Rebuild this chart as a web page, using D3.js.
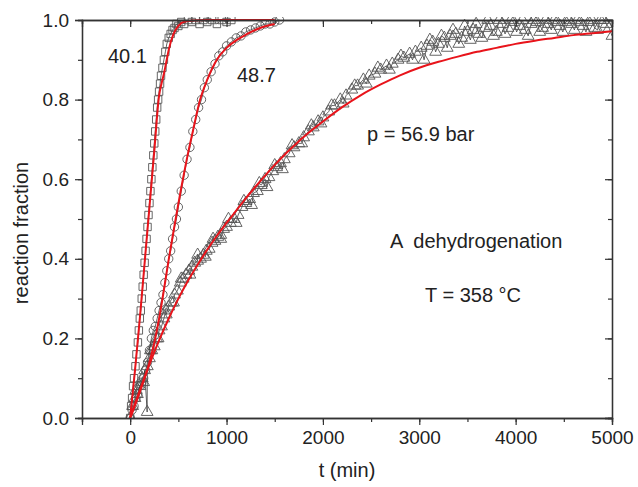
<!DOCTYPE html>
<html>
<head>
<meta charset="utf-8">
<script src="https://cdn.jsdelivr.net/npm/d3@7"></script>
<style>
  body { margin: 0; background: #fff; }
  text { font-family: "Liberation Sans", Arial, sans-serif; fill: #222; }
</style>
</head>
<body>
<div id="chart"></div>
<script>
// measured data, [t (min), reaction fraction]
var sq401 = [[0,0],[10,0.03],[20,0.05],[30,0.08],[40,0.1],[55,0.13],[65,0.16],[80,0.19],[90,0.22],[100,0.25],
  [110,0.27],[120,0.3],[130,0.33],[140,0.36],[150,0.39],[160,0.42],[170,0.45],[180,0.48],[190,0.51],
  [200,0.54],[210,0.57],[220,0.6],[230,0.63],[240,0.66],[250,0.69],[260,0.72],[270,0.75],[280,0.78],[290,0.8],
  [300,0.82],[310,0.84],[320,0.86],[335,0.88],[350,0.9],[365,0.92],[380,0.94],[400,0.955],[420,0.965],[440,0.975],
  [460,0.98],[480,0.99],[500,0.985],[530,0.995],[560,0.99],[600,1.0],[640,0.995],[680,1.0],[720,0.99],[760,1.0],
  [800,0.995],[850,1.0],[900,0.99],[950,1.0],[1000,0.995],[1050,1.0]];

var ci487 = [[0,0],[20,0.02],[40,0.03],[60,0.05],[80,0.06],[100,0.08],[120,0.09],[140,0.1],[160,0.12],[180,0.14],
  [200,0.17],[220,0.2],[240,0.22],[260,0.23],[280,0.25],[300,0.27],[320,0.29],[340,0.31],[360,0.34],[380,0.37],
  [400,0.4],[420,0.42],[440,0.45],[460,0.48],[480,0.5],[500,0.53],[530,0.57],[560,0.61],[590,0.65],[620,0.68],
  [650,0.72],[680,0.75],[710,0.78],[740,0.8],[770,0.83],[800,0.85],[840,0.87],[880,0.89],[920,0.91],[960,0.92],
  [1000,0.935],[1050,0.945],[1100,0.955],[1150,0.96],[1200,0.97],[1250,0.975],[1300,0.98],[1350,0.985],[1400,0.99],
  [1450,0.99],[1500,0.995],[1550,1.0]];

var tr569 = [[0,0],[25,0.03],[50,0.05],[60,0.07],[75,0.06],[100,0.08],[125,0.1],[140,0.09],[150,0.12],[176,0.015],[178,0.13],
  [200,0.15],[210,0.17],[225,0.17],[250,0.18],[275,0.2],[290,0.2],[300,0.22],[325,0.23],[350,0.25],[370,0.27],[375,0.26],[400,0.28],[430,0.29],
  [450,0.29],[460,0.31],[490,0.32],[520,0.34],[530,0.35],[550,0.35],[580,0.36],[610,0.37],[620,0.36],[640,0.38],[670,0.39],[700,0.395],[700,0.41],[730,0.4],
  [760,0.41],[780,0.405],[790,0.42],[820,0.425],[850,0.44],[860,0.45],[880,0.445],[910,0.455],[940,0.46],[940,0.45],[970,0.475],[1000,0.48],[1020,0.5],[1040,0.49],
  [1080,0.5],[1100,0.49],[1120,0.51],[1160,0.53],[1180,0.545],[1200,0.54],[1240,0.55],[1260,0.535],[1280,0.565],[1320,0.57],[1340,0.59],[1360,0.585],[1400,0.6],[1420,0.58],[1440,0.605],
  [1480,0.62],[1500,0.635],[1520,0.63],[1560,0.64],[1580,0.625],[1600,0.65],[1650,0.665],[1680,0.685],[1700,0.68],[1750,0.69],[1780,0.69],[1800,0.705],[1850,0.72],[1880,0.735],[1900,0.73],
  [1950,0.745],[1980,0.74],[2000,0.755],[2060,0.77],[2090,0.785],[2120,0.785],[2180,0.8],[2210,0.79],[2240,0.81],[2300,0.825],[2330,0.835],[2360,0.835],[2420,0.85],[2450,0.84],[2480,0.86],
  [2540,0.865],[2570,0.88],[2600,0.875],[2660,0.885],[2690,0.875],[2720,0.89],[2780,0.9],[2810,0.91],[2840,0.905],[2900,0.915],[2930,0.9],[2960,0.92],[3020,0.93],[3050,0.9],[3080,0.935],
  [3110,0.95],[3140,0.945],[3170,0.92],[3200,0.94],[3230,0.96],[3260,0.955],[3290,0.93],[3320,0.96],[3350,0.975],[3380,0.965],[3410,0.94],[3440,0.955],[3470,0.985],[3500,0.97],
  [3530,0.95],[3560,0.975],[3590,0.99],[3620,0.965],[3650,0.955],[3680,0.98],[3710,1.0],[3740,0.985],[3770,0.96],[3800,0.97],[3830,1.0],[3860,0.99],[3890,0.965],[3920,0.98],
  [3950,1.0],[3980,0.995],[4010,0.97],[4040,0.985],[4070,1.0],[4100,0.975],[4130,0.96],[4160,0.99],[4190,1.0],[4220,0.995],[4250,0.97],[4280,0.98],[4310,1.0],
  [4340,0.99],[4370,0.975],[4400,1.0],[4430,0.995],[4460,0.985],[4490,0.97],[4520,0.995],[4550,1.0],[4580,0.99],[4610,0.975],[4640,1.0],[4670,0.995],[4700,0.985],
  [4730,0.97],[4760,0.995],[4790,1.0],[4820,0.98],[4850,0.975],[4880,1.0],[4910,1.0],[4940,0.99],[4970,0.98],[5000,0.96]];

// fitted curves (red)
var fit401 = [[0,0],[50,0.12],[100,0.25],[150,0.39],[200,0.53],[250,0.67],[300,0.81],[325,0.84],[350,0.865],[375,0.895],
  [400,0.925],[450,0.965],[500,0.985],[550,0.995],[650,0.999],[800,1.0],[1500,1.0]];
var fit487 = [[0,0],[100,0.065],[200,0.14],[260,0.2],[300,0.25],[415,0.42],[547,0.6],[600,0.665],[650,0.72],[726,0.8],
  [800,0.85],[899,0.9],[1000,0.93],[1107,0.95],[1200,0.963],[1349,0.98],[1500,0.99]];
var fit569 = [[0,0],[100,0.07],[200,0.135],[300,0.195],[400,0.25],[500,0.3],[600,0.345],[700,0.385],[800,0.423],[900,0.458],
  [1000,0.49],[1100,0.521],[1200,0.552],[1300,0.581],[1400,0.609],[1500,0.636],[1600,0.661],[1700,0.684],[1800,0.706],
  [1900,0.726],[2000,0.745],[2200,0.781],[2400,0.812],[2600,0.838],[2800,0.861],[3000,0.88],[3200,0.895],[3400,0.908],
  [3600,0.92],[3800,0.93],[4000,0.94],[4200,0.948],[4400,0.955],[4600,0.962],[4800,0.967],[5000,0.972]];

var xTicks = [0, 1000, 2000, 3000, 4000, 5000];
var yTicks = [0, 0.2, 0.4, 0.6, 0.8, 1.0];

var W = 638, H = 487;
var margin = { top: 20, right: 26, bottom: 69, left: 82 },
    width = W - margin.left - margin.right,
    height = H - margin.top - margin.bottom;

var svg = d3.select("#chart").append("svg")
    .attr("width", W).attr("height", H);
var g = svg.append("g")
    .attr("transform", "translate(" + margin.left + "," + margin.top + ")");

var x = d3.scaleLinear().domain([-500, 5000]).range([0, width]);
var y = d3.scaleLinear().domain([0, 1]).range([height, 0]);

svg.append("defs").append("clipPath").attr("id", "clip")
  .append("rect").attr("y", -3).attr("width", width).attr("height", height + 3);

var plot = g.append("g").attr("clip-path", "url(#clip)");

var line = d3.line()
    .x(function (d) { return x(d[0]) })
    .y(function (d) { return y(d[1]) });

var series = [
  { data: tr569, sym: d3.symbolTriangle, size: 60 },
  { data: ci487, sym: d3.symbolCircle, size: 55 },
  { data: sq401, sym: d3.symbolSquare, size: 55 }
];

series.forEach(function (s) {
  plot.append("path").datum(s.data)
    .attr("fill", "none").attr("stroke", "#222").attr("stroke-width", 0.7)
    .attr("d", line);
  plot.append("g").selectAll("path")
    .data(s.data).enter().append("path")
    .attr("transform", function (d) { return "translate(" + x(d[0]) + "," + y(d[1]) + ")" })
    .attr("d", d3.symbol().type(s.sym).size(s.size))
    .attr("fill", "none")
    .attr("stroke", "#555")
    .attr("stroke-width", 0.9);
});

// red fits
[fit401, fit487, fit569].forEach(function (f) {
  plot.append("path").datum(f)
    .attr("fill", "none").attr("stroke", "#e8141b").attr("stroke-width", 2)
    .attr("d", line.curve(d3.curveMonotoneX));
});

// axes
function styleAxis(sel) {
  sel.selectAll(".domain").attr("stroke", "#333").attr("stroke-width", 1.3);
  sel.selectAll(".tick line").attr("stroke", "#333").attr("stroke-width", 1.2);
  sel.selectAll(".tick text").style("font-size", "19px").attr("fill", "#222");
}
var xMinor = d3.range(-500, 5001, 500);
var yMinor = d3.range(0, 1.001, 0.1);

g.append("g").attr("transform", "translate(0," + height + ")")
  .call(d3.axisBottom(x).tickValues(xMinor).tickSize(4).tickFormat("")).call(styleAxis);
g.append("g").attr("transform", "translate(0," + height + ")")
  .call(d3.axisBottom(x).tickValues(xTicks).tickSize(7).tickPadding(6).tickFormat(d3.format("d"))).call(styleAxis);
g.append("g")
  .call(d3.axisLeft(y).tickValues(yMinor).tickSize(4).tickFormat("")).call(styleAxis);
g.append("g")
  .call(d3.axisLeft(y).tickValues(yTicks).tickSize(7).tickPadding(6).tickFormat(d3.format(".1f"))).call(styleAxis);
g.append("g")
  .call(d3.axisTop(x).tickValues(xMinor).tickSize(-4).tickFormat("")).call(styleAxis);
g.append("g")
  .call(d3.axisTop(x).tickValues(xTicks).tickSize(-7).tickFormat("")).call(styleAxis);
g.append("g").attr("transform", "translate(" + width + ",0)")
  .call(d3.axisRight(y).tickValues(yMinor).tickSize(-4).tickFormat("")).call(styleAxis);
g.append("g").attr("transform", "translate(" + width + ",0)")
  .call(d3.axisRight(y).tickValues(yTicks).tickSize(-7).tickFormat("")).call(styleAxis);

// axis titles
svg.append("text")
  .attr("transform", "translate(21,233) rotate(-90)")
  .attr("text-anchor", "middle").attr("dy", "0.35em")
  .style("font-size", "20px").text("reaction fraction");
svg.append("text")
  .attr("x", 347).attr("y", 477).attr("text-anchor", "middle")
  .style("font-size", "20px").text("t (min)");

// annotations
var notes = [
  { t: "40.1", x: 108, y: 63 },
  { t: "48.7", x: 237, y: 82 },
  { t: "p = 56.9 bar", x: 367, y: 141 },
  { t: "A  dehydrogenation", x: 390, y: 248 },
  { t: "T = 358 \u00B0C", x: 425, y: 302 }
];
svg.selectAll(".note").data(notes).enter().append("text")
  .attr("class", "note")
  .attr("x", function (d) { return d.x })
  .attr("y", function (d) { return d.y })
  .style("font-size", "20px")
  .style("white-space", "pre")
  .text(function (d) { return d.t });
</script>
</body>
</html>
